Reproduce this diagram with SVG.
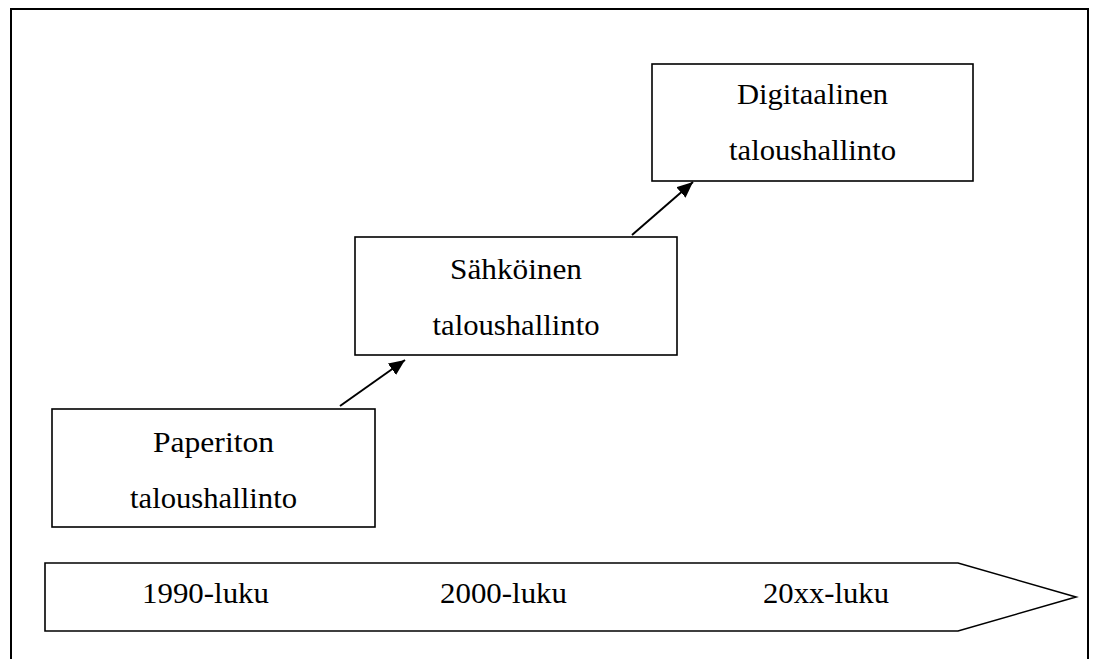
<svg xmlns="http://www.w3.org/2000/svg" width="1093" height="659" viewBox="0 0 1093 659">
  <style>
    .frame { fill: none; stroke: #000; stroke-width: 2; }
    .box { fill: #fff; stroke: #000; stroke-width: 1.6; }
    .lbl { font-family: "Times New Roman", Times, "Liberation Serif", Tinos, serif; font-size: 30px; fill: #000; text-anchor: middle; }
    .conn { stroke: #000; stroke-width: 2; fill: none; }
  </style>
  <defs>
    <marker id="arrow" markerUnits="userSpaceOnUse" markerWidth="18" markerHeight="14" refX="16" refY="7" orient="auto">
      <path d="M0,0 L16,7 L0,14 Z" fill="#000"/>
    </marker>
  </defs>
  <rect width="1093" height="659" fill="#fff"/>
  <!-- outer frame, open at the bottom edge -->
  <path class="frame" d="M11,670 L11,9 L1088,9 L1088,670"/>

  <g id="timeline">
    <path class="box" d="M45,563 L958,563 L1076,597 L958,631 L45,631 Z"/>
    <text class="lbl" x="205.5" y="603" textLength="127" lengthAdjust="spacingAndGlyphs">1990-luku</text>
    <text class="lbl" x="503.5" y="603" textLength="127" lengthAdjust="spacingAndGlyphs">2000-luku</text>
    <text class="lbl" x="826" y="603" textLength="126" lengthAdjust="spacingAndGlyphs">20xx-luku</text>
  </g>

  <g id="paperiton">
    <rect class="box" x="52" y="409" width="323" height="118"/>
    <text class="lbl" x="213.5" y="452" textLength="121" lengthAdjust="spacingAndGlyphs">Paperiton</text>
    <text class="lbl" x="213.5" y="508" textLength="167" lengthAdjust="spacingAndGlyphs">taloushallinto</text>
  </g>

  <g id="sahkoinen">
    <rect class="box" x="355" y="237" width="322" height="118"/>
    <text class="lbl" x="516" y="279" textLength="132" lengthAdjust="spacingAndGlyphs">Sähköinen</text>
    <text class="lbl" x="516" y="335" textLength="167" lengthAdjust="spacingAndGlyphs">taloushallinto</text>
  </g>

  <g id="digitaalinen">
    <rect class="box" x="652" y="64" width="321" height="117"/>
    <text class="lbl" x="812.5" y="104" textLength="151" lengthAdjust="spacingAndGlyphs">Digitaalinen</text>
    <text class="lbl" x="812.5" y="160" textLength="167" lengthAdjust="spacingAndGlyphs">taloushallinto</text>
  </g>

  <g id="connectors">
    <line class="conn" x1="340" y1="406" x2="405" y2="360" marker-end="url(#arrow)"/>
    <line class="conn" x1="632" y1="235" x2="693" y2="182" marker-end="url(#arrow)"/>
  </g>
</svg>
